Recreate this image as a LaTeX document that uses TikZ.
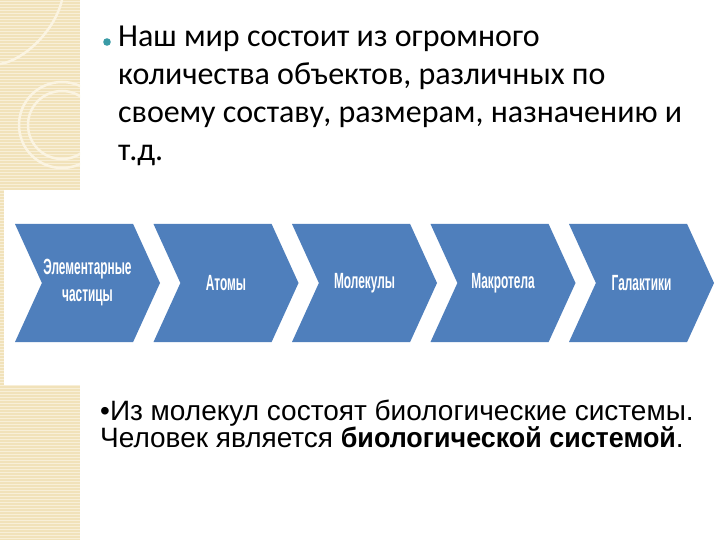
\documentclass[tikz,border=0pt]{standalone}
\usepackage{fontspec}
\setmainfont{Carlito}
\newfontfamily\notefont[BoldFeatures={FakeStretch=0.96}]{Liberation Sans}
\newfontfamily\chevfont[FakeStretch=0.54]{Liberation Sans}
\usetikzlibrary{shapes.symbols}
\definecolor{ink}{HTML}{000000}
\definecolor{chevblue}{HTML}{4F7FBC}
\definecolor{dotteal}{HTML}{3A9BA6}
\definecolor{paper}{HTML}{F1E2BA}
\definecolor{paperline}{HTML}{F8EFD8}
\definecolor{paperdeco}{HTML}{FBF4E2}
\newcommand{\leadsize}{\fontsize{32}{38}\selectfont}
\newcommand{\notesize}{\fontsize{28}{27}\selectfont}
\newcommand{\chevsize}{\fontsize{22}{27}\selectfont}
\tikzset{
  every picture/.style = {line join=round},
  chev/.style          = {signal, signal from=west, signal to=east,
                          signal pointer angle=131, fill=chevblue, draw=none,
                          minimum width=145, minimum height=118, inner sep=0pt,
                          text=white, font=\chevfont\chevsize\bfseries, align=center},
  grain/.style         = {line width=1pt, paperline},
  deco/.style          = {line width=2.5pt, paperdeco},
}

\begin{document}
\begin{tikzpicture}[x=1pt, y=-1pt]
  \useasboundingbox (0,0) rectangle (720,540);

  % the beige strip down the left edge, with its fine grain
  \fill[paper] (0,0) rectangle (80,540);
  \foreach \y in {1.5,4.5,...,538.5}
    \draw[grain] (0,\y) -- (80,\y);
  \begin{scope}
    \clip (0,0) rectangle (80,190);
    \draw[deco] (62,125) circle (43);
    \draw[deco] (62,125) circle (34);
    \draw[deco] (0,64) .. controls (25,60) and (55,30) .. (62,0);
  \end{scope}
  % the chevron row sits on a white band over the strip
  \fill[white] (4,190) rectangle (720,385);

  % lead paragraph (base = baseline of its last line)
  \fill[dotteal] (107,42) circle (3.8);
  \node[anchor=base west, inner sep=0pt, align=left, text=ink, font=\leadsize] (lead) at (118,161)
    {Наш мир состоит из огромного\\
     количества объектов, различных по\\
     своему составу, размерам, назначению и\\
     т.д.};

  % the scale of objects, smallest to largest
  \foreach \i/\nm/\txt in {0/particles/{Элементарные\\частицы}, 1/atoms/Атомы,
      2/molecules/Молекулы, 3/bodies/Макротела, 4/galaxies/Галактики}
    \node[chev] (\nm) at ({87.5+138.5*\i},283) {\txt};

  % closing note
  \node[anchor=base west, inner sep=0pt, align=left, text=ink, font=\notefont\notesize] (note) at (100,447)
    {•Из молекул состоят биологические системы.\\
     Человек является \textbf{биологической системой}.};
\end{tikzpicture}
\end{document}
